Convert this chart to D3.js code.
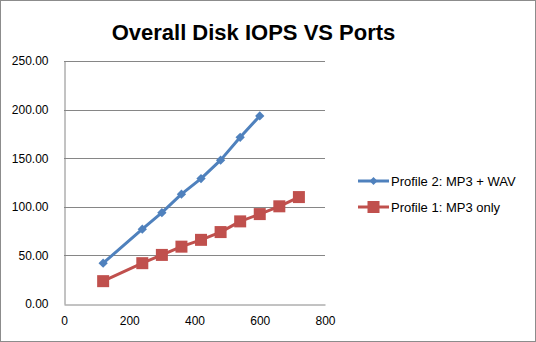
<!DOCTYPE html>
<html>
<head>
<meta charset="utf-8">
<script src="https://cdn.jsdelivr.net/npm/d3@7/dist/d3.min.js"></script>
<style>
  html, body { margin: 0; padding: 0; background: #fff; }
  svg { display: block; font-family: "Liberation Sans", Arial, sans-serif; }
</style>
</head>
<body>
<svg id="chart" width="536" height="342"></svg>
<script>
// Ports tested for each profile
const portsProfile2 = [120, 240, 300, 360, 420, 480, 540, 600];
const iopsProfile2  = [42, 77, 94, 113, 129, 148, 171.5, 193.5];

const portsProfile1 = [120, 240, 300, 360, 420, 480, 540, 600, 660, 720];
const iopsProfile1  = [23.5, 42, 50.5, 59, 66, 74, 85, 92.5, 100.5, 110];

const seriesNames = ["Profile 2: MP3 + WAV", "Profile 1: MP3 only"];
const xTicks = [0, 200, 400, 600, 800];
const yTicks = [0, 50, 100, 150, 200, 250];

const W = 536, H = 342;
const plot = { left: 64, right: 325, top: 61, bottom: 304 };

const svg = d3.select("#chart");

// outer frame
svg.append("rect")
  .attr("x", 0.5).attr("y", 0.5)
  .attr("width", W - 1).attr("height", H - 1)
  .attr("fill", "#fff").attr("stroke", "#8c8c8c");

// title
svg.append("text")
  .attr("x", 253.5).attr("y", 40)
  .attr("text-anchor", "middle")
  .attr("font-size", 22).attr("font-weight", "bold")
  .attr("fill", "#000")
  .text("Overall Disk IOPS VS Ports");

const x = d3.scaleLinear().domain([0, 800]).range([plot.left, plot.right]);
const y = d3.scaleLinear().domain([0, 250]).range([plot.bottom, plot.top]);

// horizontal gridlines
svg.append("g")
  .selectAll("line")
  .data(yTicks.filter(d => d > 0))
  .join("line")
  .attr("x1", plot.left).attr("x2", plot.right)
  .attr("y1", d => Math.round(y(d)) + 0.5).attr("y2", d => Math.round(y(d)) + 0.5)
  .attr("stroke", "#868686").attr("stroke-width", 1);

// y axis
const yAxis = svg.append("g")
  .attr("transform", `translate(${plot.left + 0.5},0)`)
  .call(d3.axisLeft(y).tickValues(yTicks).tickFormat(d3.format(".2f")).tickSize(0).tickPadding(16));
yAxis.select(".domain").attr("stroke", "#868686");
yAxis.selectAll("text").attr("font-size", 12).attr("fill", "#000")
  .attr("font-family", "Liberation Sans, Arial, sans-serif");

// x axis
const xAxis = svg.append("g")
  .attr("transform", `translate(0,${plot.bottom + 0.5})`)
  .call(d3.axisBottom(x).tickValues(xTicks).tickFormat(d3.format("d")).tickSize(0).tickPadding(12));
xAxis.select(".domain").attr("stroke", "#868686");
xAxis.selectAll("text").attr("font-size", 12).attr("fill", "#000")
  .attr("font-family", "Liberation Sans, Arial, sans-serif");

const line = d3.line().x(d => x(d[0])).y(d => y(d[1]));

const blue = "#4f81bd", red = "#c0504d";

const s2 = d3.zip(portsProfile2, iopsProfile2);
const s1 = d3.zip(portsProfile1, iopsProfile1);

// Profile 1 series (squares)
svg.append("path").datum(s1)
  .attr("d", line).attr("fill", "none")
  .attr("stroke", red).attr("stroke-width", 3).attr("stroke-linejoin", "round");
svg.append("g").selectAll("rect").data(s1).join("rect")
  .attr("x", d => x(d[0]) - 6).attr("y", d => y(d[1]) - 6)
  .attr("width", 12).attr("height", 12).attr("fill", red);

// Profile 2 series (diamonds)
svg.append("path").datum(s2)
  .attr("d", line).attr("fill", "none")
  .attr("stroke", blue).attr("stroke-width", 3).attr("stroke-linejoin", "round");
const diamond = d3.symbol().type(d3.symbolDiamond2).size(55);
svg.append("g").selectAll("path").data(s2).join("path")
  .attr("transform", d => `translate(${x(d[0])},${y(d[1])})`)
  .attr("d", diamond).attr("fill", blue);

// legend
const legend = [
  { name: seriesNames[0], color: blue, shape: "diamond", y: 181 },
  { name: seriesNames[1], color: red, shape: "square", y: 207 }
];
const lg = svg.append("g").selectAll("g").data(legend).join("g")
  .attr("transform", d => `translate(0,${d.y})`);
lg.append("line")
  .attr("x1", 358).attr("x2", 389).attr("y1", 0).attr("y2", 0)
  .attr("stroke", d => d.color).attr("stroke-width", 3);
lg.filter(d => d.shape === "square").append("rect")
  .attr("x", 373.5 - 6).attr("y", -6).attr("width", 12).attr("height", 12)
  .attr("fill", d => d.color);
lg.filter(d => d.shape === "diamond").append("path")
  .attr("transform", "translate(373.5,0)")
  .attr("d", d3.symbol().type(d3.symbolDiamond2).size(40))
  .attr("fill", d => d.color);
lg.append("text")
  .attr("x", 391).attr("y", 4.5)
  .attr("font-size", 13).attr("fill", "#000")
  .text(d => d.name);
</script>
</body>
</html>
